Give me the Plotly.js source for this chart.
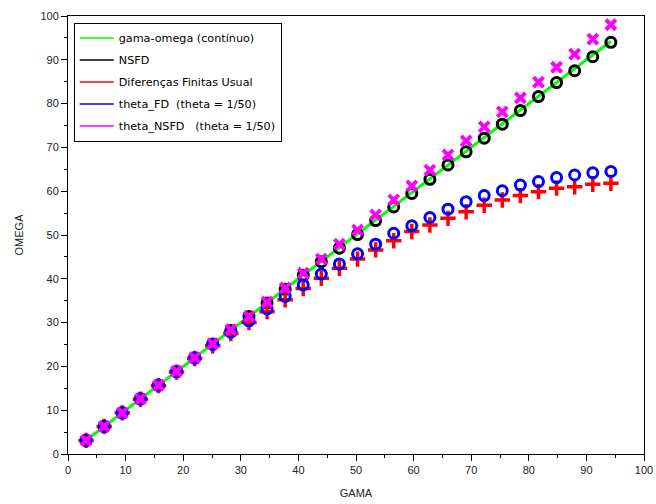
<!DOCTYPE html>
<html>
<head>
<meta charset="utf-8">
<script src="https://cdn.plot.ly/plotly-3.0.1.min.js"></script>
<style>
  html, body { margin: 0; padding: 0; background: #ffffff; }
  #chart { width: 656px; height: 504px; }
</style>
</head>
<body>
<div id="chart"></div>
<script>
// gamma sample points
const gama = [3.14, 6.28, 9.42, 12.57, 15.71, 18.85, 21.99, 25.13, 28.27, 31.42,
              34.56, 37.70, 40.84, 43.98, 47.12, 50.27, 53.41, 56.55, 59.69, 62.83,
              65.97, 69.12, 72.26, 75.40, 78.54, 81.68, 84.82, 87.96, 91.11, 94.25];

// continuous relation gamma-omega
const contGama  = [3.14, 94.25];
const contOmega = [3.14, 94.25];

// NSFD scheme
const nsfd = [3.1, 6.3, 9.4, 12.6, 15.7, 18.8, 22.0, 25.1, 28.2, 31.4,
              34.5, 37.6, 40.8, 43.9, 47.0, 50.1, 53.3, 56.4, 59.5, 62.7,
              66.0, 69.0, 72.1, 75.3, 78.4, 81.6, 84.8, 87.5, 90.7, 94.0];

// usual finite differences
const fdUsual = [3.1, 6.3, 9.4, 12.5, 15.6, 18.7, 21.8, 24.7, 27.5, 30.0,
                 32.5, 35.2, 37.8, 40.1, 42.4, 44.5, 46.6, 48.7, 50.8, 52.3,
                 53.8, 55.3, 56.8, 58.0, 59.0, 59.9, 60.7, 61.0, 61.6, 61.8];

// theta_FD (theta = 1/50)
const thetaFD = [3.1, 6.3, 9.4, 12.6, 15.7, 18.8, 21.9, 25.0, 27.8, 30.4,
                 33.1, 36.0, 38.6, 41.1, 43.4, 45.7, 47.9, 50.4, 52.1, 54.0,
                 55.9, 57.6, 59.0, 60.1, 61.4, 62.2, 63.1, 63.7, 64.2, 64.5];

// theta_NSFD (theta = 1/50)
const thetaNSFD = [3.1, 6.3, 9.4, 12.6, 15.7, 18.9, 22.0, 25.2, 28.4, 31.4,
                   34.7, 37.9, 41.3, 44.5, 47.9, 51.1, 54.6, 58.0, 61.2, 64.8,
                   68.3, 71.5, 74.7, 78.1, 81.3, 84.9, 88.3, 91.3, 94.7, 98.0];

const seriesNames = ['gama-omega (contínuo)', 'NSFD', 'Diferenças Finitas Usual',
                     'theta_FD  (theta = 1/50)', 'theta_NSFD   (theta = 1/50)'];
const seriesColors = ['#00ff00', '#000000', '#ff0000', '#0000ff', '#ff00ff'];

const traces = [
  { x: contGama, y: contOmega, mode: 'lines', line: { color: seriesColors[0], width: 3 },
    showlegend: false, hoverinfo: 'skip' },
  { x: gama, y: nsfd, mode: 'markers', showlegend: false,
    marker: { symbol: 'circle-open', size: 10, color: seriesColors[1], line: { width: 3, color: seriesColors[1] } } },
  { x: gama, y: fdUsual, mode: 'markers', showlegend: false,
    marker: { symbol: 'cross-thin-open', size: 11, color: seriesColors[2], line: { width: 3.5, color: seriesColors[2] } } },
  { x: gama, y: thetaFD, mode: 'markers', showlegend: false,
    marker: { symbol: 'circle-open', size: 10, color: seriesColors[3], line: { width: 3, color: seriesColors[3] } } },
  { x: gama, y: thetaNSFD, mode: 'markers', showlegend: false,
    marker: { symbol: 'x-thin-open', size: 10, color: seriesColors[4], line: { width: 4, color: seriesColors[4] } } }
];

// legend entries show line samples
seriesNames.forEach((name, i) => {
  traces.push({ x: [null], y: [null], mode: 'lines', name: name,
    legendgroup: 'g' + i,
    line: { color: seriesColors[i], width: 1.5 }, hoverinfo: 'skip' });
});

const axisFont = { family: 'Liberation Sans, Arial, sans-serif', size: 11, color: '#222222' };

const layout = {
  width: 656, height: 504,
  margin: { l: 68, r: 12, t: 16, b: 50 },
  paper_bgcolor: '#ffffff', plot_bgcolor: '#ffffff',
  showlegend: true,
  legend: {
    x: 0.01, y: 0.985, xanchor: 'left', yanchor: 'top',
    bgcolor: '#ffffff', bordercolor: '#000000', borderwidth: 1,
    font: { family: 'DejaVu Sans, sans-serif', size: 11.2, color: '#000000' },
    tracegroupgap: 3, itemwidth: 34
  },
  xaxis: {
    range: [0, 100], dtick: 10, tick0: 0,
    showgrid: false, zeroline: false,
    showline: true, linecolor: '#000000', linewidth: 1, mirror: true,
    ticks: 'outside', ticklen: 6, tickcolor: '#000000', tickwidth: 1,
    minor: { dtick: 5, ticks: 'outside', ticklen: 3, tickcolor: '#000000', showgrid: false },
    tickfont: axisFont,
    title: { text: 'GAMA', font: axisFont, standoff: 14 }
  },
  yaxis: {
    range: [0, 100], dtick: 10, tick0: 0,
    showgrid: false, zeroline: false,
    showline: true, linecolor: '#000000', linewidth: 1, mirror: true,
    ticks: 'outside', ticklen: 6, tickcolor: '#000000', tickwidth: 1,
    minor: { dtick: 5, ticks: 'outside', ticklen: 3, tickcolor: '#000000', showgrid: false },
    tickfont: axisFont,
    title: { text: 'OMEGA', font: axisFont, standoff: 14 }
  }
};

Plotly.newPlot('chart', traces, layout, { displayModeBar: false, staticPlot: true });
</script>
</body>
</html>
